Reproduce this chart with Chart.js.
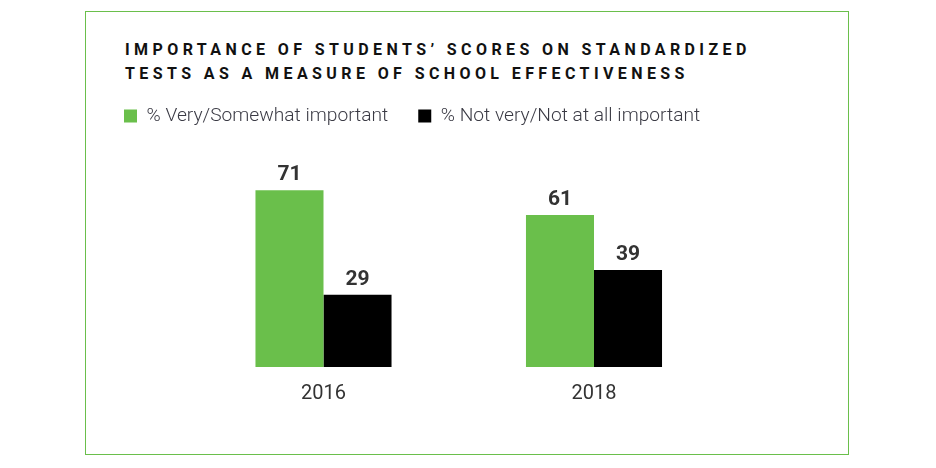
<!DOCTYPE html>
<html lang="en">
<head>
  <meta charset="UTF-8">
  <title>Standardized test scores</title>
  <script src="https://cdn.jsdelivr.net/npm/chart.js"></script>
  <style>
    html, body {
      margin: 0;
      padding: 0;
      background: #fff;
    }

    body {
      width: 936px;
      height: 468px;
      position: relative;
      overflow: hidden;
      font-family: 'Roboto', sans-serif;
    }

    .frame {
      position: absolute;
      left: 85px;
      top: 11px;
      width: 764px;
      height: 444px;
      box-sizing: border-box;
      border: 1.5px solid #6abf4b;
    }

    .title {
      position: absolute;
      left: 125px;
      top: 38px;
      margin: 0;
      font-size: 16px;
      line-height: 24px;
      font-weight: 700;
      letter-spacing: 4.4px;
      color: #111;
    }

    #chart {
      position: absolute;
      left: 0;
      top: 0;
    }
  </style>
</head>
<body>

  <div class="frame"></div>
  <h1 class="title">IMPORTANCE OF STUDENTS’ SCORES ON STANDARDIZED<br>TESTS AS A MEASURE OF SCHOOL EFFECTIVENESS</h1>
  <canvas id="chart" width="936" height="468"></canvas>

  <script>
    const years = ['2016', '2018'];
    const importantPct = [71, 61];
    const notImportantPct = [29, 39];
    const seriesNames = ['% Very/Somewhat important', '% Not very/Not at all important'];

    // numbers above each bar, placed from the bar elements chart.js laid out
    const valueLabels = {
      id: 'valueLabels',
      afterDatasetsDraw(chart) {
        const ctx = chart.ctx;
        ctx.save();
        ctx.font = 'bold 21px Roboto, sans-serif';
        ctx.fillStyle = '#333';
        ctx.textAlign = 'center';
        ctx.textBaseline = 'bottom';
        chart.data.datasets.forEach((ds, i) => {
          chart.getDatasetMeta(i).data.forEach((bar, j) => {
            ctx.fillText(ds.data[j], bar.x, bar.y - 5);
          });
        });
        ctx.restore();
      }
    };

    new Chart(document.getElementById('chart'), {
      type: 'bar',
      data: {
        labels: years,
        datasets: [
          { label: seriesNames[0], data: importantPct, backgroundColor: '#6abf4b' },
          { label: seriesNames[1], data: notImportantPct, backgroundColor: '#000' }
        ]
      },
      options: {
        responsive: false,
        animation: false,
        layout: { padding: { left: 94, right: 100, top: 76.5, bottom: 47 } },
        datasets: {
          bar: { categoryPercentage: 0.503, barPercentage: 1.0 }
        },
        plugins: {
          tooltip: { enabled: false },
          legend: {
            position: 'top',
            align: 'start',
            labels: {
              boxWidth: 13,
              boxHeight: 13,
              padding: 30,
              color: '#3a3a44',
              font: { family: 'Roboto', size: 19.2, weight: '300' }
            }
          }
        },
        scales: {
          x: {
            grid: { display: false, drawTicks: false },
            border: { display: false },
            ticks: {
              color: '#333',
              padding: 15,
              font: { family: 'Roboto', size: 20 }
            }
          },
          y: {
            min: 0,
            max: 92.9,
            grid: { display: false, drawTicks: false },
            border: { display: false },
            ticks: { display: false },
            afterFit(scale) { scale.width = 94.25; }
          },
          yRight: {
            position: 'right',
            display: true,
            grid: { display: false, drawTicks: false },
            border: { display: false },
            ticks: { display: false },
            afterFit(scale) { scale.width = 106.75; }
          }
        }
      },
      plugins: [valueLabels]
    });
  </script>

</body>
</html>
